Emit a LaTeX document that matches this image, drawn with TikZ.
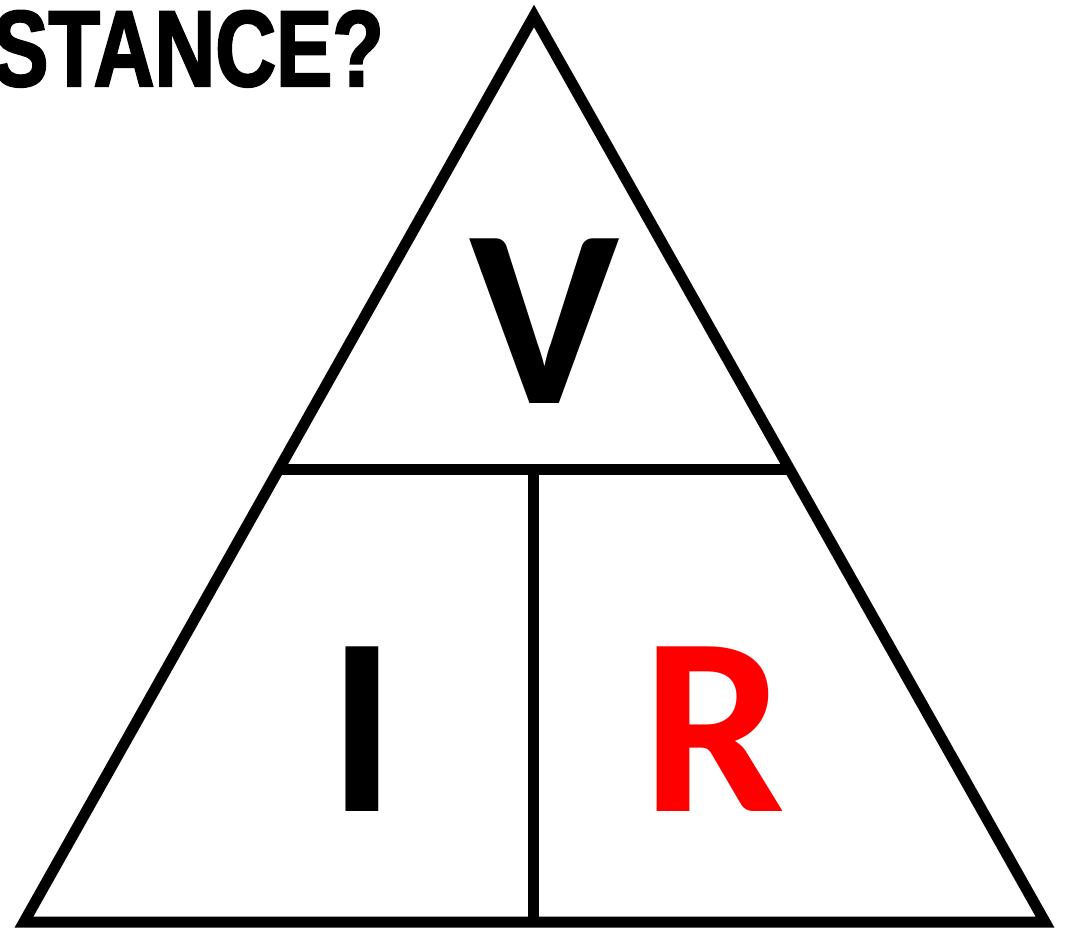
\documentclass[tikz,border=0pt]{standalone}
\usepackage{fontspec}
\usetikzlibrary{calc}
\setmainfont{Carlito}
\newfontfamily\titlefont[FakeStretch=0.78,FakeBold=2]{Liberation Sans}
\begin{document}
\begin{tikzpicture}[x=1pt,y=-1pt,
  edge/.style={line width=11pt,line join=miter,black},
  letter/.style={font=\fontsize{254}{254}\selectfont\bfseries,inner sep=0pt,anchor=base}]
\useasboundingbox (0,0) rectangle (1069,933);
\coordinate (top) at (534,16);
\coordinate (bl) at (24,922);
\coordinate (br) at (1045,922);
\coordinate (ml) at ($(top)!0.5011!(bl)$);
\coordinate (mr) at ($(top)!0.5011!(br)$);
\coordinate (mt) at (533,470);
\coordinate (mb) at (533,922);
\draw[edge] (top) -- (bl) -- (br) -- cycle;
\draw[edge] (ml) -- (mr);
\draw[edge,line cap=butt] (mt) -- (mb);
\node[letter] (V) at (545,403) {V};
\node[letter] (I) at (362,811) {I};
\node[letter,text={rgb,255:red,255;green,0;blue,0}] (R) at (714,811) {R};
\begin{scope}
\clip (0,0) rectangle (1069,933);
\node[font=\titlefont\fontsize{108}{108}\selectfont\bfseries,anchor=base east,inner sep=0pt] (title) at (384,86) {RESISTANCE?};
\end{scope}
\end{tikzpicture}
\end{document}
